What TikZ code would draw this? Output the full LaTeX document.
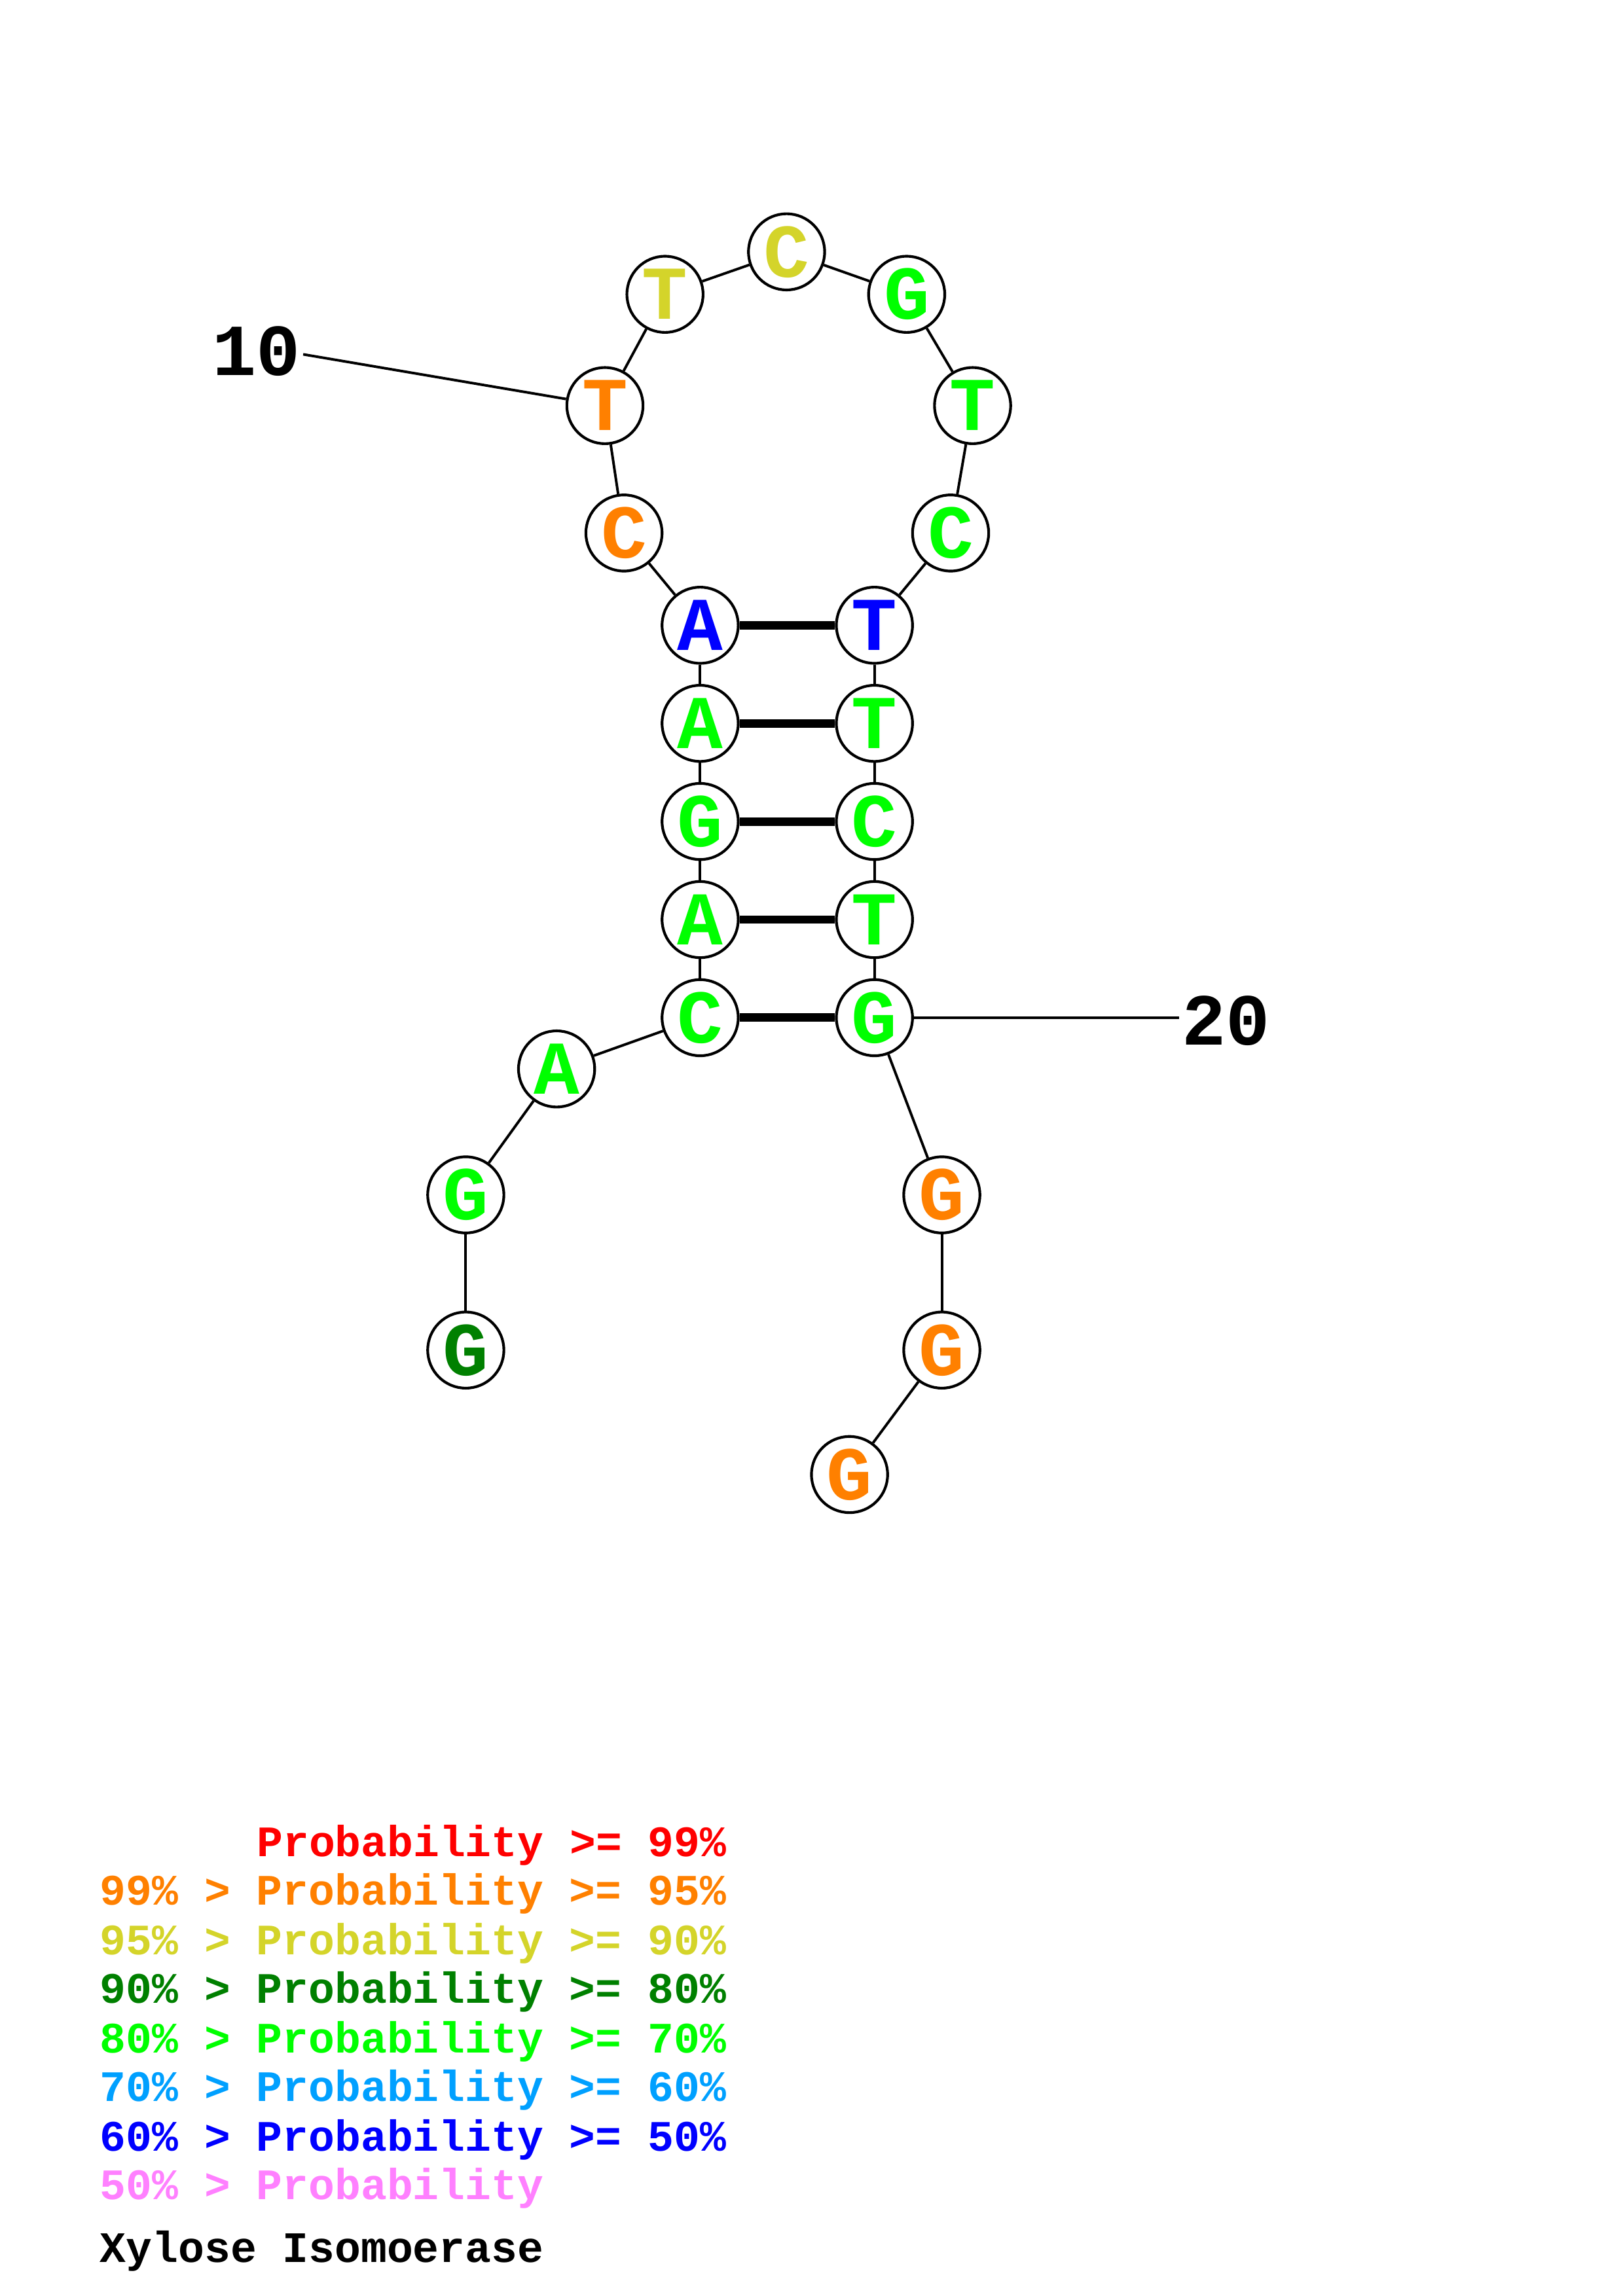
\documentclass[tikz,border=0pt]{standalone}
\usepackage{fontspec}
\setmainfont{Liberation Mono}
\definecolor{cR}{RGB}{255,0,0}
\definecolor{cO}{RGB}{255,128,0}
\definecolor{cY}{RGB}{212,212,42}
\definecolor{cDG}{RGB}{0,128,0}
\definecolor{cG}{RGB}{0,255,0}
\definecolor{cLB}{RGB}{0,160,255}
\definecolor{cB}{RGB}{0,0,255}
\definecolor{cP}{RGB}{255,128,255}
\begin{document}
\begin{tikzpicture}[x=0.18953mm,y=-0.18953mm,
  nt/.style={circle,draw=black,line width=1pt,fill=white,minimum size=52*0.18953mm,inner sep=0pt,font=\fontsize{28}{28}\selectfont\bfseries},
  bb/.style={line width=0.95pt},
  bp/.style={line width=3.1pt},
  lbl/.style={font=\fontsize{27}{27}\selectfont\bfseries},
  leg/.style={anchor=base west,inner sep=0pt,font=\fontsize{16}{16}\selectfont\bfseries}]
\useasboundingbox (0,0) rectangle (1108,1568);
\fill[white] (0,0) rectangle (1108,1568);
% nodes
\node[nt,text=cDG] (n1) at (318,922) {G};
\node[nt,text=cG] (n2) at (318,816) {G};
\node[nt,text=cG] (n3) at (380,730) {A};
\node[nt,text=cG] (n4) at (478,695) {C};
\node[nt,text=cG] (n5) at (478,628) {A};
\node[nt,text=cG] (n6) at (478,561) {G};
\node[nt,text=cG] (n7) at (478,494) {A};
\node[nt,text=cB] (n8) at (478,427) {A};
\node[nt,text=cO] (n9) at (426,364) {C};
\node[nt,text=cO] (n10) at (413,277) {T};
\node[nt,text=cY] (n11) at (454,201) {T};
\node[nt,text=cY] (n12) at (537,172) {C};
\node[nt,text=cG] (n13) at (619,201) {G};
\node[nt,text=cG] (n14) at (664,277) {T};
\node[nt,text=cG] (n15) at (649,364) {C};
\node[nt,text=cB] (n16) at (597,427) {T};
\node[nt,text=cG] (n17) at (597,494) {T};
\node[nt,text=cG] (n18) at (597,561) {C};
\node[nt,text=cG] (n19) at (597,628) {T};
\node[nt,text=cG] (n20) at (597,695) {G};
\node[nt,text=cO] (n21) at (643,816) {G};
\node[nt,text=cO] (n22) at (643,922) {G};
\node[nt,text=cO] (n23) at (580,1007) {G};
% backbone
\foreach \a/\b in {1/2,2/3,3/4,4/5,5/6,6/7,7/8,8/9,9/10,10/11,11/12,12/13,13/14,14/15,15/16,16/17,17/18,18/19,19/20,20/21,21/22,22/23}
  \draw[bb] (n\a) -- (n\b);
% pairs
\foreach \a/\b in {8/16,7/17,6/18,5/19,4/20}
  \draw[bp] (n\a) -- (n\b);
% position labels
\node[lbl] (l10) at (175,240) {10};
\node[lbl] (l20) at (837,697) {20};
\coordinate (c10) at (207,242);
\coordinate (c20) at (805,695);
\draw[bb] (c10) -- (n10);
\draw[bb] (n20) -- (c20);
% legend
\node[leg,text=cR] (g1) at (175,1268) {Probability >= 99\%};
\node[leg,text=cO] (g2) at (68,1301) {99\% > Probability >= 95\%};
\node[leg,text=cY] (g3) at (68,1335) {95\% > Probability >= 90\%};
\node[leg,text=cDG] (g4) at (68,1368) {90\% > Probability >= 80\%};
\node[leg,text=cG] (g5) at (68,1402) {80\% > Probability >= 70\%};
\node[leg,text=cLB] (g6) at (68,1435) {70\% > Probability >= 60\%};
\node[leg,text=cB] (g7) at (68,1469) {60\% > Probability >= 50\%};
\node[leg,text=cP] (g8) at (68,1502) {50\% > Probability};
\node[leg,text=black] (g9) at (68,1545) {Xylose Isomoerase};
\end{tikzpicture}
\end{document}
